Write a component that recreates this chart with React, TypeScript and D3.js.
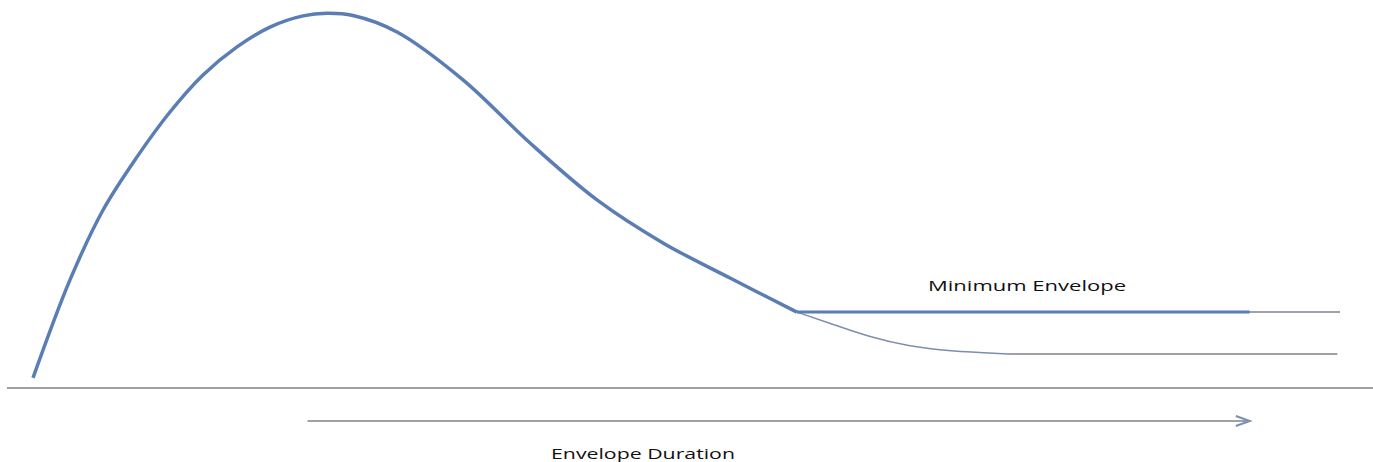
import * as d3 from "d3";
import * as React from "react";

// envelope curve (time units 0..100, level units 0..100)
const envTime = [
  0, 2.83, 5.36, 7.96, 10.48, 13.01, 15.61, 18.13, 20.66, 22.49, 24.48, 27.85,
  32.9, 38.03, 43.15, 48.2, 53.33, 58.45,
];
const envLevel = [
  2.7, 28.9, 47.6, 61.8, 73.8, 83.7, 91.2, 96.5, 99.5, 100.2, 99.6, 95.2,
  82.4, 65.5, 50.3, 38.8, 29.4, 20.3,
];

// decay below the minimum envelope
const decayTime = [58.45, 60.9, 64.0, 67.0, 70.0, 74.6];
const decayLevel = [20.3, 17.4, 13.6, 11.2, 9.9, 9.1];
const decayTailEnd = 99.8;

// minimum envelope hold
const minLevel = 20.3;
const minStart = 58.45;
const minEnd = 93.1;
const minTailEnd = 100;

// duration arrow
const durationStart = 21.0;
const durationEnd = 93.1;

const labels = {
  minimum: "Minimum Envelope",
  duration: "Envelope Duration",
};

const W = 1373;
const H = 462;
const blue = "#5a7db4";
const gray = "#9da1a8";

export default function App() {
  const x = d3.scaleLinear().domain([0, 100]).range([33, 1340]);
  const y = d3.scaleLinear().domain([0, 100]).range([388, 14]);

  const line = d3
    .line<[number, number]>()
    .x((d) => x(d[0]))
    .y((d) => y(d[1]))
    .curve(d3.curveCatmullRom.alpha(0.5));

  const decayLine = d3
    .line<[number, number]>()
    .x((d) => x(d[0]))
    .y((d) => y(d[1]))
    .curve(d3.curveBasis);

  const envPts = envTime.map((t, i) => [t, envLevel[i]] as [number, number]);
  const decayPts = decayTime.map(
    (t, i) => [t, decayLevel[i]] as [number, number]
  );
  const lastDecay = decayLevel[decayLevel.length - 1];

  const arrowY = y(0) + 33;
  const font = "'Open Sans', 'DejaVu Sans', sans-serif";

  return (
    <svg
      width={W}
      height={H}
      style={{ position: "absolute", left: 0, top: 0, background: "#fff" }}
    >
      {/* baseline */}
      <line x1={7} x2={W} y1={y(0)} y2={y(0)} stroke={gray} strokeWidth={2} />

      {/* decay tail */}
      <line
        x1={x(decayTime[decayTime.length - 1])}
        x2={x(decayTailEnd)}
        y1={y(lastDecay)}
        y2={y(lastDecay)}
        stroke={gray}
        strokeWidth={2}
      />
      <path
        d={decayLine(decayPts) || ""}
        fill="none"
        stroke="#7b8fae"
        strokeWidth={1.5}
      />

      {/* minimum envelope */}
      <line
        x1={x(minEnd)}
        x2={x(minTailEnd)}
        y1={y(minLevel)}
        y2={y(minLevel)}
        stroke={gray}
        strokeWidth={2}
      />
      <line
        x1={x(minStart)}
        x2={x(minEnd)}
        y1={y(minLevel)}
        y2={y(minLevel)}
        stroke={blue}
        strokeWidth={3}
      />

      {/* envelope */}
      <path
        d={line(envPts) || ""}
        fill="none"
        stroke={blue}
        strokeWidth={3.5}
        strokeLinecap="butt"
      />

      <text
        x={928}
        y={y(minLevel) - 21}
        fontFamily={font}
        fontSize={14}
        textLength={198}
        lengthAdjust="spacingAndGlyphs"
        fill="#111"
      >
        {labels.minimum}
      </text>

      {/* duration arrow */}
      <line
        x1={x(durationStart)}
        x2={x(durationEnd)}
        y1={arrowY}
        y2={arrowY}
        stroke={gray}
        strokeWidth={2}
      />
      <path
        d={`M${x(durationEnd) - 14},${arrowY - 5} L${x(durationEnd)},${arrowY} L${x(durationEnd) - 14},${arrowY + 5}`}
        fill="none"
        stroke="#7b8fae"
        strokeWidth={2}
      />
      <text
        x={551}
        y={arrowY + 38}
        fontFamily={font}
        fontSize={14}
        textLength={184}
        lengthAdjust="spacingAndGlyphs"
        fill="#111"
      >
        {labels.duration}
      </text>
    </svg>
  );
}
